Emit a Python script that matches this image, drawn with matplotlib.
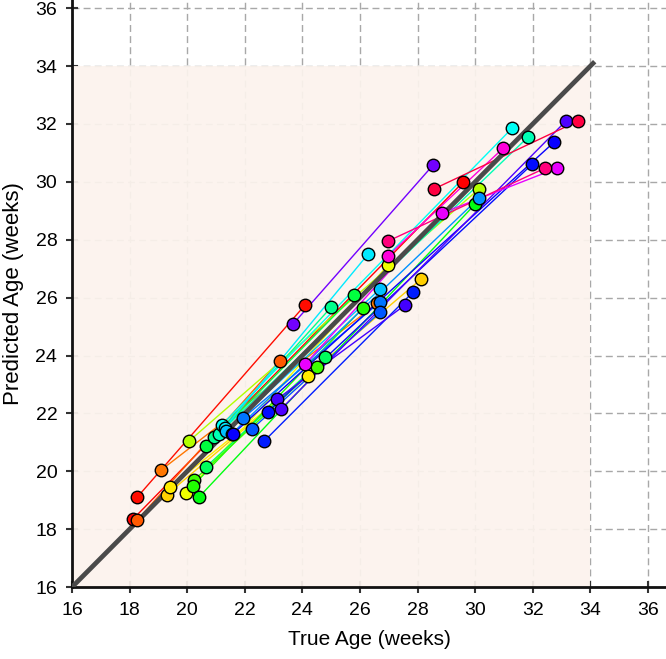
import matplotlib
matplotlib.use("Agg")
import matplotlib.pyplot as plt
import numpy as np

plt.rcParams['font.family'] = ['Liberation Sans', 'DejaVu Sans']

# Each subject: hue (hsv colormap), true ages, predicted ages
subject_hues = [0.00, 0.06, 0.01, 0.08, 0.14, 0.16, 0.18, 0.22, 0.30, 0.32,
                0.35, 0.38, 0.40, 0.43, 0.46, 0.50, 0.52, 0.55, 0.58, 0.60,
                0.62, 0.66, 0.67, 0.68, 0.72, 0.75, 0.73, 0.83, 0.87, 0.93,
                0.97]
true_ages = [
    [18.12, 29.58], [18.26, 23.22], [18.26, 24.09], [19.09, 26.60],
    [19.30, 28.12], [19.40, 24.20], [19.96, 26.97], [20.06, 30.13],
    [20.24, 24.50], [20.20, 26.10], [20.40, 30.00], [20.65, 25.80],
    [20.65, 24.80], [20.93, 25.00], [21.10, 31.83], [21.20, 31.28],
    [21.30, 26.28], [21.35, 26.70], [21.55, 30.13], [21.94, 26.70],
    [22.25, 26.70], [22.67, 27.84], [22.80, 31.97], [21.60, 32.74],
    [23.12, 27.56], [23.67, 28.53], [23.26, 33.15], [24.10, 28.85, 32.84],
    [26.97, 30.97], [26.97, 32.42], [28.56, 33.57],
]
pred_ages = [
    [18.35, 29.99], [18.31, 23.82], [19.10, 25.74], [20.04, 25.80],
    [19.20, 26.64], [19.45, 23.30], [19.25, 27.12], [21.04, 29.75],
    [19.70, 23.60], [19.50, 25.64], [19.10, 29.23], [20.87, 26.08],
    [20.15, 23.95], [21.18, 25.67], [21.30, 31.54], [21.60, 31.85],
    [21.50, 27.50], [21.40, 26.30], [21.30, 29.44], [21.84, 25.85],
    [21.46, 25.50], [21.04, 26.19], [22.05, 30.60], [21.30, 31.37],
    [22.49, 25.74], [25.08, 30.57], [22.15, 32.10], [23.70, 28.92, 30.47],
    [27.44, 31.16], [27.95, 30.47], [29.75, 32.10],
]

x_ticks = [16, 18, 20, 22, 24, 26, 28, 30, 32, 34, 36]
y_ticks = [16, 18, 20, 22, 24, 26, 28, 30, 32, 34, 36]
shade_range = [16, 34]
identity = [16, 34.15]

fig = plt.figure(figsize=(6.66, 6.59), dpi=100)
ax = fig.add_axes([0.108, 0.109, 0.892, 0.891])
ax.set_xlim(16, 36.625)
ax.set_ylim(16, 36.28)

ax.grid(True, linestyle=(0, (5, 3)), color='#a8a8a8', linewidth=1.0)
ax.set_axisbelow(True)
ax.fill_between(shade_range, shade_range[0], shade_range[1],
                color='#fcf3ed', alpha=0.93, linewidth=0, zorder=1)

cmap = plt.get_cmap('hsv')
for h, xs, ys in zip(subject_hues, true_ages, pred_ages):
    c = cmap(h)
    ax.plot(xs, ys, '-', color=c, linewidth=1.0, zorder=2)
for h, xs, ys in zip(subject_hues, true_ages, pred_ages):
    c = cmap(h)
    ax.plot(xs, ys, 'o', color=c, markersize=9, markeredgecolor='black',
            markeredgewidth=1.0, linestyle='none', zorder=4)

ax.plot(identity, identity, color='#4a4a4a', linewidth=3.4, zorder=3,
        solid_capstyle='butt')

for s in ['top', 'right']:
    ax.spines[s].set_visible(False)
for s in ['left', 'bottom']:
    ax.spines[s].set_linewidth(2.0)
    ax.spines[s].set_color('#111111')

ax.set_xticks(x_ticks)
ax.set_yticks(y_ticks)
ax.tick_params(direction='inout', length=9, width=1.5, labelsize=14,
               color='#333333', pad=6)
ax.set_xlabel('True Age (weeks)', fontsize=15, labelpad=8)
ax.set_ylabel('Predicted Age (weeks)', fontsize=16, labelpad=8)

fig.savefig('out.png', dpi=100)
